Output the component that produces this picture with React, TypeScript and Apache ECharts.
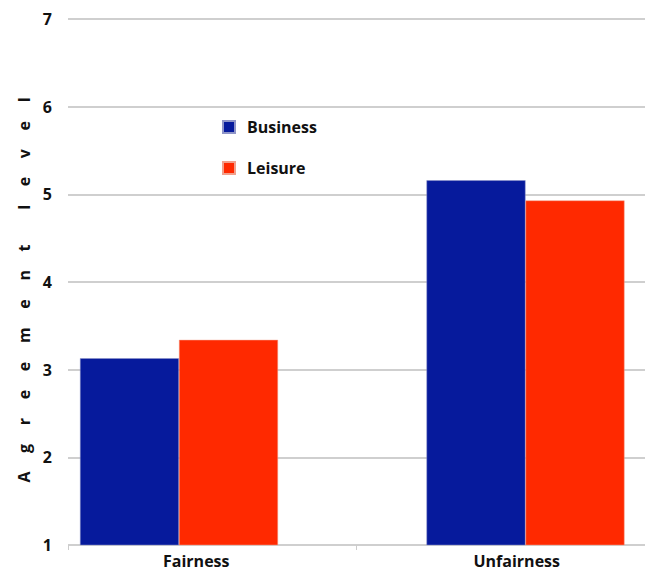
import React, { useEffect, useRef } from "react";
import * as echarts from "echarts";

const categories = ["Fairness", "Unfairness"];
const businessValues = [3.13, 5.16];
const leisureValues = [3.34, 4.93];
const seriesNames = ["Business", "Leisure"];
const yAxisTitle = "Agreement level";
const yMin = 1;
const yMax = 7;

const FONT = "'Open Sans', 'DejaVu Sans', sans-serif";

function spaced(s: string): string {
  return (
    s
      .split(" ")
      .map((w) => w.split("").join("\u2003\u2009"))
      .join("\u2003\u2003\u2009") + "\u2003"
  );
}

export default function App() {
  const ref = useRef<HTMLDivElement>(null);
  useEffect(() => {
    document.body.style.margin = "0";
    if (!ref.current) return;
    const chart = echarts.init(ref.current, null, { renderer: "svg" });
    chart.setOption({
      animation: false,
      backgroundColor: "#ffffff",
      legend: {
        orient: "vertical",
        left: 217,
        top: 114,
        itemWidth: 12,
        itemHeight: 12,
        itemGap: 25,
        icon: "rect",
        data: seriesNames,
        textStyle: { fontFamily: FONT, fontWeight: "bold", fontSize: 16, color: "#111", padding: [0, 0, 0, 7] },
      },
      grid: [
        { left: 68, right: 55, top: 19, bottom: 26 },
        { left: 5.75, width: 693, top: 19, bottom: 26 },
      ],
      xAxis: [
        {
          type: "category",
          gridIndex: 0,
          data: categories,
          axisLine: { show: false },
          axisTick: { show: true, length: 5, lineStyle: { color: "#cccccc" } },
          axisLabel: {
            margin: 8,
            formatter: (v: string, i: number) => (i === 0 ? `{a|${v}}` : `{b|${v}}`),
            rich: {
              a: { fontFamily: FONT, fontWeight: "bold", fontSize: 16, color: "#111", padding: [0, 32, 0, 0] },
              b: { fontFamily: FONT, fontWeight: "bold", fontSize: 16, color: "#111", padding: [0, 0, 0, 32] },
            },
          },
        },
        {
          type: "category",
          gridIndex: 1,
          data: categories,
          show: false,
        },
      ],
      yAxis: [
        {
          type: "value",
          gridIndex: 0,
          min: yMin,
          max: yMax,
          interval: 1,
          axisLine: { show: false },
          axisTick: { show: false },
          splitLine: { show: true, lineStyle: { color: "#cfcfcf", width: 2 } },
          axisLabel: { margin: 16, fontFamily: FONT, fontWeight: "bold", fontSize: 16, color: "#111" },
          name: spaced(yAxisTitle),
          nameLocation: "middle",
          nameGap: 36,
          nameTextStyle: {
            fontFamily: FONT,
            fontWeight: "bold",
            fontSize: 16,
            color: "#111",
          },
        },
        {
          type: "value",
          gridIndex: 1,
          min: yMin,
          max: yMax,
          show: false,
        },
      ],
      series: [
        {
          name: seriesNames[0],
          type: "bar",
          xAxisIndex: 1,
          yAxisIndex: 1,
          data: businessValues,
          barWidth: 99,
          barGap: "0%",
          itemStyle: { color: "#061a9c", borderColor: "#8f95c8", borderWidth: 0.5 },
        },
        {
          name: seriesNames[1],
          type: "bar",
          xAxisIndex: 1,
          yAxisIndex: 1,
          data: leisureValues,
          barWidth: 99,
          barGap: "0%",
          itemStyle: { color: "#ff2900", borderColor: "#f2a08c", borderWidth: 0.5 },
        },
      ],
    });
    return () => chart.dispose();
  }, []);
  return (
    <div style={{ width: 645, height: 571, overflow: "hidden", position: "relative" }}>
      <div ref={ref} style={{ width: 700, height: 571 }} />
    </div>
  );
}
